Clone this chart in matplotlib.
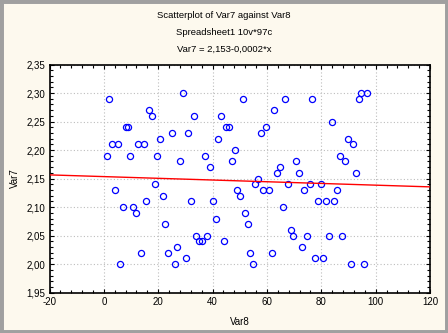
import matplotlib
matplotlib.use("Agg")
import matplotlib.pyplot as plt
from matplotlib.ticker import MultipleLocator, FuncFormatter
from matplotlib.patches import Rectangle

var8 = [1.8, 16.7, 17.8, 8.1, 8.8, 25.0, 20.7, 2.9, 5.1, 12.7, 14.9, 1.1, 9.8, 19.6,
        18.9, 4.0, 21.8, 15.6, 6.9, 10.9, 12.0, 22.5, 27.0, 13.8, 23.6, 26.0, 5.8,
        29.1, 51.1, 33.2, 43.0, 31.0, 44.9, 46.0, 42.0, 48.2, 28.0, 37.2, 47.1, 39.0,
        48.9, 50.0, 32.1, 40.1, 51.8, 41.2, 52.9, 33.9, 37.9, 35.0, 36.1, 44.1, 30.2,
        53.8, 54.7,
        66.7, 76.6, 62.6, 59.6, 57.8, 70.7, 64.8, 63.7, 71.8, 56.7, 55.6, 67.7, 75.8,
        79.9, 58.5, 60.7, 73.6, 78.8, 81.9, 65.9, 68.8, 69.6, 74.7, 82.7, 72.9, 61.8,
        77.7, 80.6,
        94.6, 96.8, 93.9, 83.9, 89.8, 91.7, 86.9, 88.7, 92.8, 85.8, 84.7, 87.6, 90.9, 95.7]
var7 = [2.29, 2.27, 2.26, 2.24, 2.24, 2.23, 2.22, 2.21, 2.21, 2.21, 2.21, 2.19, 2.19, 2.19,
        2.14, 2.13, 2.12, 2.11, 2.10, 2.10, 2.09, 2.07, 2.03, 2.02, 2.02, 2.00, 2.00,
        2.30, 2.29, 2.26, 2.26, 2.23, 2.24, 2.24, 2.22, 2.20, 2.18, 2.19, 2.18, 2.17,
        2.13, 2.12, 2.11, 2.11, 2.09, 2.08, 2.07, 2.05, 2.05, 2.04, 2.04, 2.04, 2.01,
        2.02, 2.00,
        2.29, 2.29, 2.27, 2.24, 2.23, 2.18, 2.17, 2.16, 2.16, 2.15, 2.14, 2.14, 2.14,
        2.14, 2.13, 2.13, 2.13, 2.11, 2.11, 2.10, 2.06, 2.05, 2.05, 2.05, 2.03, 2.02,
        2.01, 2.01,
        2.30, 2.30, 2.29, 2.25, 2.22, 2.21, 2.19, 2.18, 2.16, 2.13, 2.11, 2.05, 2.00, 2.00]

fit_intercept = 2.1535
fit_slope = -0.00015
fit_x = [-20, 120]

x_ticks = [-20, 0, 20, 40, 60, 80, 100, 120]
y_ticks = [1.95, 2.00, 2.05, 2.10, 2.15, 2.20, 2.25, 2.30, 2.35]

title_lines = ["Scatterplot of Var7 against Var8", "Spreadsheet1 10v*97c",
               "Var7 = 2,153-0,0002*x"]

bg = "#FDF9EE"
plt.rcParams['font.family'] = ['Liberation Sans', 'DejaVu Sans']

fig = plt.figure(figsize=(4.48, 3.33), dpi=100, facecolor=bg)
ax = fig.add_axes([49.5/448, 1 - 292.7/333, (430 - 49.5)/448, (292.7 - 64.5)/333])
ax.set_facecolor("white")

ax.plot(var8, var7, linestyle="none", marker="o", markersize=4.4,
        markerfacecolor="none", markeredgecolor="#0000FF", markeredgewidth=0.9,
        zorder=3)
fy = [fit_intercept + fit_slope * v for v in fit_x]
ax.plot(fit_x, fy, color="#FF0000", linewidth=1.0, zorder=4)

ax.set_xlim(x_ticks[0], x_ticks[-1])
ax.set_ylim(y_ticks[0], y_ticks[-1])
ax.set_xticks(x_ticks)
ax.set_yticks(y_ticks)
ax.xaxis.set_minor_locator(MultipleLocator(4))
ax.yaxis.set_minor_locator(MultipleLocator(0.01))
ax.yaxis.set_major_formatter(FuncFormatter(lambda v, p: f"{v:.2f}".replace(".", ",")))
ax.xaxis.set_major_formatter(FuncFormatter(lambda v, p: f"{v:.0f}"))
ax.grid(True, which="major", color="#BDBDBD", linestyle=(0, (1, 2)), linewidth=0.8)
ax.tick_params(which="both", direction="in", top=True, right=True, labelsize=7,
               colors="black", pad=3)
ax.tick_params(which="major", length=3, width=0.8)
ax.tick_params(which="minor", length=2, width=0.8)
for s in ax.spines.values():
    s.set_linewidth(1.2)
    s.set_color("black")

ax.set_xlabel("Var8", fontsize=7, labelpad=7)
ax.set_ylabel("Var7", fontsize=7, labelpad=5)

for i, t in enumerate(title_lines):
    fig.text(0.5, 1 - (16 + 16.5 * i) / 333, t, ha="center", va="center", fontsize=6.8)

# window frame
fig.patches.append(Rectangle((0, 0), 1, 1, transform=fig.transFigure, fill=False,
                             edgecolor="#A0A0A0", linewidth=5))

fig.savefig("out.png", dpi=100, facecolor=bg)
